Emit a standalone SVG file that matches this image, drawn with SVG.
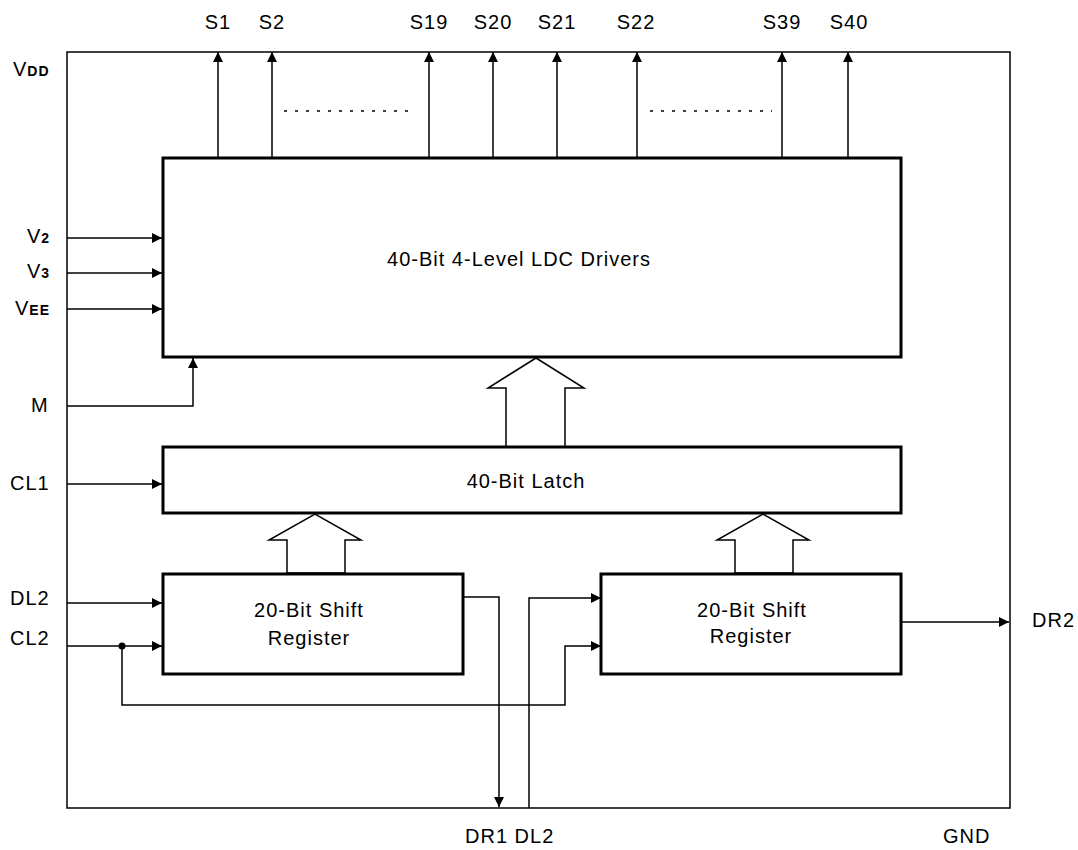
<svg xmlns="http://www.w3.org/2000/svg" width="1078" height="850" viewBox="0 0 1078 850">
<defs>
<marker id="ah" viewBox="0 0 10 10" refX="10" refY="5" markerWidth="10" markerHeight="10" markerUnits="userSpaceOnUse" orient="auto"><path d="M0,0 L10,5 L0,10 z" fill="#000"/></marker>
<style>
text{font-family:"Liberation Sans",Arial,sans-serif;font-size:20px;fill:#000;letter-spacing:1px}
.c{text-anchor:middle}
.sub{font-size:14px;font-weight:bold}
.box{fill:#fff;stroke:#000;stroke-width:3}
.a{fill:none;stroke:#000;stroke-width:1.5;marker-end:url(#ah)}
.hol{fill:#fff;stroke:#000;stroke-width:1.5}
.dot{fill:none;stroke:#000;stroke-width:1.5;stroke-dasharray:3,8}
</style>
</defs>
<rect id="outer" x="67" y="52" width="943" height="756" fill="none" stroke="#000" stroke-width="1.5"/>
<g id="connectors">
<line class="a" x1="218" y1="158" x2="218" y2="52"/>
<line class="a" x1="272" y1="158" x2="272" y2="52"/>
<line class="a" x1="429" y1="158" x2="429" y2="52"/>
<line class="a" x1="493" y1="158" x2="493" y2="52"/>
<line class="a" x1="557" y1="158" x2="557" y2="52"/>
<line class="a" x1="637" y1="158" x2="637" y2="52"/>
<line class="a" x1="782" y1="158" x2="782" y2="52"/>
<line class="a" x1="848" y1="158" x2="848" y2="52"/>
<line class="dot" x1="284" y1="111" x2="416" y2="111"/>
<line class="dot" x1="650" y1="111" x2="772" y2="111"/>
<line class="a" x1="67" y1="238" x2="162" y2="238"/>
<line class="a" x1="67" y1="273" x2="162" y2="273"/>
<line class="a" x1="67" y1="309" x2="162" y2="309"/>
<polyline class="a" points="67,406 193,406 193,358"/>
<line class="a" x1="67" y1="484" x2="162" y2="484"/>
<line class="a" x1="67" y1="603" x2="162" y2="603"/>
<line class="a" x1="67" y1="646" x2="162" y2="646"/>
<circle cx="122" cy="646" r="3.5" fill="#000"/>
<polyline class="a" points="122,646 122,705 565,705 565,646 601,646"/>
<polyline class="a" points="463,597 499,597 499,807"/>
<polyline class="a" points="529,808 529,598 601,598"/>
<line class="a" x1="902" y1="622" x2="1009" y2="622"/>
<polygon class="hol" points="506,447 506,388 488,388 536,358 584,388 565,388 565,447"/>
<polygon class="hol" points="287,573 287,540 269,540 315,514 361,540 345,540 345,573"/>
<polygon class="hol" points="735,573 735,540 717,540 763,514 809,540 793,540 793,573"/>
</g>
<g id="drivers"><rect class="box" x="163" y="158" width="738" height="199"/><text class="c" x="519" y="266">40-Bit 4-Level LDC Drivers</text></g>
<g id="latch"><rect class="box" x="163" y="447" width="738" height="66"/><text class="c" x="526" y="488">40-Bit Latch</text></g>
<g id="sr1"><rect class="box" x="163" y="574" width="300" height="100"/><text class="c" x="309" y="617">20-Bit Shift</text><text class="c" x="309" y="645">Register</text></g>
<g id="sr2"><rect class="box" x="601" y="574" width="300" height="100"/><text class="c" x="752" y="617">20-Bit Shift</text><text class="c" x="751" y="643">Register</text></g>
<g id="labels">
<text class="c" x="218" y="29">S1</text>
<text class="c" x="272" y="29">S2</text>
<text class="c" x="429" y="29">S19</text>
<text class="c" x="493" y="29">S20</text>
<text class="c" x="557" y="29">S21</text>
<text class="c" x="636" y="29">S22</text>
<text class="c" x="782" y="29">S39</text>
<text class="c" x="849" y="29">S40</text>
<text x="13" y="76">V<tspan class="sub">DD</tspan></text>
<text x="27" y="243">V<tspan class="sub">2</tspan></text>
<text x="27" y="278">V<tspan class="sub">3</tspan></text>
<text x="15" y="315">V<tspan class="sub">EE</tspan></text>
<text x="31" y="412">M</text>
<text x="10" y="490">CL1</text>
<text x="10" y="605">DL2</text>
<text x="10" y="645">CL2</text>
<text x="1032" y="627">DR2</text>
<text x="465" y="843">DR1 DL2</text>
<text x="943" y="843">GND</text>
</g>
</svg>
